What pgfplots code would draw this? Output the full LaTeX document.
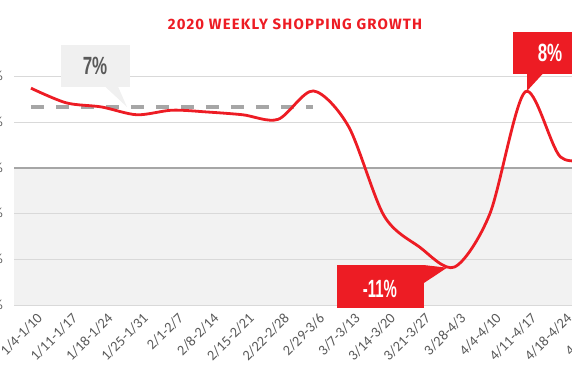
\documentclass[border=0pt]{standalone}
\usepackage{pgfplots}
\pgfplotsset{compat=1.18}
\usepackage{fontspec}
\setmainfont{Carlito}
\newfontfamily\titlefont[LetterSpace=8]{Fira Sans}
\newfontfamily\callfont{Liberation Sans}
\definecolor{cred}{HTML}{ED1C24}
\definecolor{lab}{HTML}{595959}
\definecolor{gridc}{HTML}{D9D9D9}
\definecolor{zeroc}{HTML}{A6A6A6}
\definecolor{shadec}{HTML}{F2F2F2}
\definecolor{dashc}{HTML}{A6A6A6}
\definecolor{boxg}{HTML}{F0F0F0}
\begin{document}
\begin{tikzpicture}[x=1bp,y=1bp]
\useasboundingbox (0,0) rectangle (572,364);
\begin{scope}
\clip (0,0) rectangle (572,364);
\fill[shadec] (14,58.5) rectangle (620,196.05);
\begin{axis}[
  at={(14bp,58.5bp)}, anchor=south west,
  scale only axis, width=599.4bp, height=229.25bp,
  xmin=-0.48, xmax=16.5, ymin=-15, ymax=10,
  axis line style={draw=none}, major tick length=0pt,
  ytick={-15,-10,-5,5,10},
  ymajorgrids, grid style={gridc, line width=1bp},
  extra y ticks={0},
  extra y tick style={grid style={zeroc, line width=1.6bp}},
  yticklabel={\pgfmathprintnumber{\tick}\%},
  y tick label style={font=\fontsize{14}{14}\selectfont, color=lab, inner sep=0pt, xshift=-11bp, anchor=east},
  xtick={0,...,16},
  xticklabels={1/4-1/10,1/11-1/17,1/18-1/24,1/25-1/31,2/1-2/7,2/8-2/14,2/15-2/21,2/22-2/28,2/29-3/6,3/7-3/13,3/14-3/20,3/21-3/27,3/28-4/3,4/4-4/10,4/11-4/17,4/18-4/24,4/25-5/1},
  x tick label style={rotate=45, anchor=north east, font=\fontsize{14.5}{14.5}\selectfont, color=lab, inner sep=0pt, yshift=-8bp, xshift=-1bp},
  clip=false,
]
\addplot[dashc, line width=3.2bp, dash pattern=on 13bp off 12bp] coordinates {(0,6.65) (8,6.65)};
\addplot[cred, line width=2.8bp, smooth] coordinates {
(0,8.7) (1,7.1) (2,6.65) (3,5.8) (4,6.3) (5,6.1) (6,5.8) (7,5.3) (8,8.4) (9,4.5) (10,-5.2) (11,-8.6) (12,-10.8) (13,-5.0) (14,8.3) (15,1.2) (16,1.2)};
\end{axis}
% title
\node[anchor=base, text=cred, font=\titlefont\bfseries\fontsize{15}{15}\selectfont] at (295,335) {2020 WEEKLY SHOPPING GROWTH};
% 7% callout
\fill[boxg] (60.7,319) rectangle (130,277.3);
\fill[boxg] (105,277.5) -- (118,277.5) -- (127,257) -- cycle;
\node[text=lab, font=\callfont\bfseries\fontsize{25}{25}\selectfont] at (95,298) {\scalebox{0.68}[1]{7\%}};
% 8% callout
\fill[cred] (512.7,332) rectangle (600,290);
\fill[cred] (527,290.5) -- (543,290.5) -- (527,273) -- cycle;
\node[text=white, font=\callfont\bfseries\fontsize{25}{25}\selectfont] at (550,311) {\scalebox{0.68}[1]{8\%}};
% -11% callout
\fill[cred] (336.7,99) rectangle (424,56);
\fill[cred] (423.5,99) -- (447,96.3) -- (423.5,80.7) -- cycle;
\node[text=white, font=\callfont\bfseries\fontsize{25}{25}\selectfont] at (380,75) {\scalebox{0.6}[1]{-11\%}};
\end{scope}
\end{tikzpicture}
\end{document}
